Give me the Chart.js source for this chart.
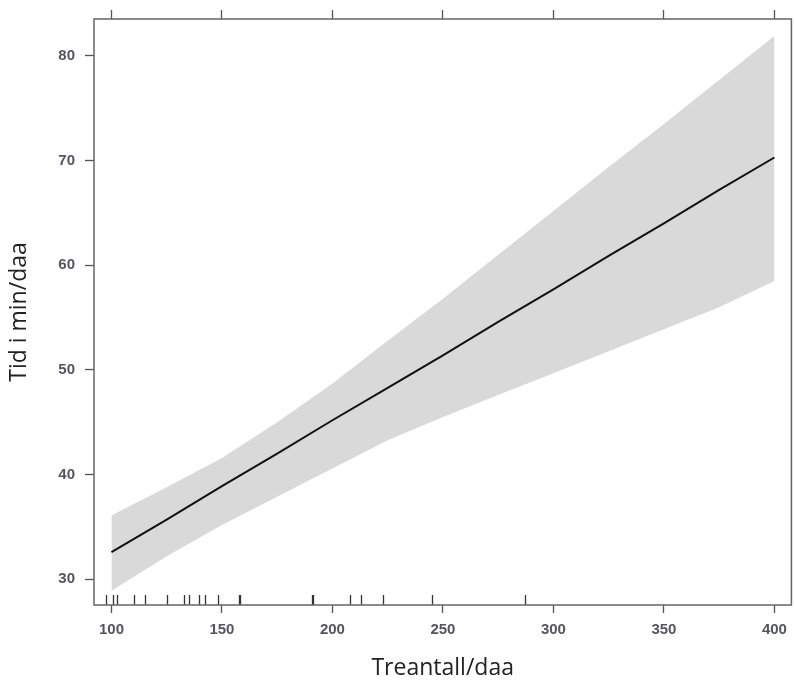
<!DOCTYPE html>
<html>
<head>
<meta charset="utf-8">
<script src="https://cdn.jsdelivr.net/npm/chart.js@4/dist/chart.umd.min.js"></script>
<style>
  html, body { margin: 0; padding: 0; background: #fff; }
  #wrap { width: 795px; height: 684px; }
</style>
</head>
<body>
<div id="wrap"><canvas id="canvas"></canvas></div>
<script>
// effect plot: fitted line with confidence band, rug of observed values
var treantall = [100, 125, 150, 175, 200, 225, 250, 275, 300, 325, 350, 375, 400];
var fit   = [32.6, 35.7, 38.9, 42.0, 45.2, 48.3, 51.4, 54.6, 57.7, 60.9, 64.0, 67.2, 70.3];
var upper = [36.1, 38.8, 41.6, 45.0, 48.7, 52.8, 56.8, 61.0, 65.2, 69.4, 73.5, 77.7, 81.9];
var lower = [28.9, 32.2, 35.2, 37.9, 40.6, 43.3, 45.5, 47.6, 49.7, 51.8, 53.9, 56.0, 58.5];
var rug = [97.5, 100.5, 102.5, 110, 115, 125, 133, 135, 139.5, 142.5, 148,
           157.6, 158.2, 190.6, 191.2, 208, 213, 223, 245, 287];
var xTicks = [100, 150, 200, 250, 300, 350, 400];
var yTicks = [30, 40, 50, 60, 70, 80];

function pts(ys) {
  return treantall.map(function (x, i) { return {x: x, y: ys[i]}; });
}

var boxAndRug = {
  id: 'boxAndRug',
  afterDatasetsDraw: function (chart) {
    var ctx = chart.ctx, a = chart.chartArea, xs = chart.scales.x;
    ctx.save();
    ctx.strokeStyle = '#333';
    ctx.lineWidth = 1.3;
    rug.forEach(function (v) {
      var px = Math.round(xs.getPixelForValue(v)) + 0.5;
      ctx.beginPath();
      ctx.moveTo(px, a.bottom);
      ctx.lineTo(px, a.bottom - 10);
      ctx.stroke();
    });
    ctx.strokeStyle = '#666';
    ctx.lineWidth = 1.5;
    ctx.strokeRect(a.left, a.top, a.right - a.left, a.bottom - a.top);
    ctx.restore();
  }
};

var tickFont = {family: '"Liberation Sans", Arial, sans-serif', size: 15, weight: 'bold'};
var titleFont = {family: '"Open Sans", sans-serif', size: 23};

var config = {
  type: 'line',
  data: {
    datasets: [
      {
        label: 'fit',
        data: pts(fit),
        borderColor: '#111',
        borderWidth: 2,
        pointRadius: 0,
        fill: false
      },
      {
        label: 'lower',
        data: pts(lower),
        borderWidth: 0,
        pointRadius: 0,
        fill: false,
        backgroundColor: '#d9d9d9'
      },
      {
        label: 'upper',
        data: pts(upper),
        borderWidth: 0,
        pointRadius: 0,
        fill: '-1',
        backgroundColor: '#d9d9d9'
      }
    ]
  },
  options: {
    responsive: true,
    maintainAspectRatio: false,
    animation: false,
    layout: {padding: {left: 0, right: 2, top: 0, bottom: 0}},
    plugins: {legend: {display: false}, tooltip: {enabled: false}},
    scales: {
      x: {
        type: 'linear',
        position: 'bottom',
        min: 92.1,
        max: 407.7,
        afterBuildTicks: function (s) { s.ticks = xTicks.map(function (v) { return {value: v}; }); },
        afterFit: function (s) { s.height = 79; },
        border: {display: false},
        grid: {drawOnChartArea: false, tickLength: 8, tickColor: '#555', tickWidth: 1.3},
        ticks: {autoSkip: false, maxRotation: 0, padding: 8, color: '#55555f', font: tickFont},
        title: {display: true, text: 'Treantall/daa', color: '#222', font: titleFont,
                padding: {top: 0, bottom: 2}}
      },
      x2: {
        type: 'linear',
        position: 'top',
        min: 92.1,
        max: 407.7,
        afterBuildTicks: function (s) { s.ticks = xTicks.map(function (v) { return {value: v}; }); },
        afterFit: function (s) { s.height = 18; },
        border: {display: false},
        grid: {drawOnChartArea: false, tickLength: 9, tickColor: '#555', tickWidth: 1.3},
        ticks: {display: false}
      },
      y: {
        type: 'linear',
        position: 'left',
        min: 27.55,
        max: 83.53,
        afterBuildTicks: function (s) { s.ticks = yTicks.map(function (v) { return {value: v}; }); },
        afterFit: function (s) { s.width = 94; },
        border: {display: false},
        grid: {drawOnChartArea: false, tickLength: 9, tickColor: '#555', tickWidth: 1.3},
        ticks: {padding: 10, color: '#55555f', font: tickFont},
        title: {display: true, text: 'Tid i min/daa', color: '#222', font: titleFont,
                padding: {top: 6, bottom: 0}}
      }
    }
  },
  plugins: [boxAndRug]
};

var ctx = document.getElementById('canvas').getContext('2d');
window.myChart = new Chart(ctx, config);
</script>
</body>
</html>
